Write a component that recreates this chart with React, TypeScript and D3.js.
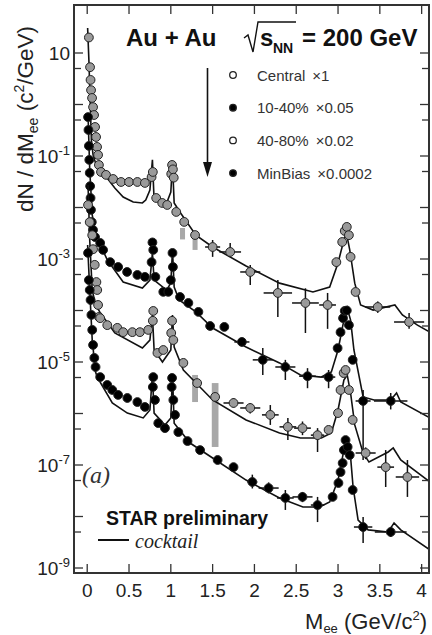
import React from 'react';
import * as d3 from 'd3';

const W = 432, H = 635;
const L = 74, R = 429, T = 5, B = 573;

const xTicks = [0, 0.5, 1, 1.5, 2, 2.5, 3, 3.5, 4];
const xTickLabels = ['0', '0.5', '1', '1.5', '2', '2.5', '3', '3.5', '4'];
const yDecades = [1, 0, -1, -2, -3, -4, -5, -6, -7, -8, -9];
const yLabelExps = [1, -1, -3, -5, -7, -9];

const legendLabels = ['Central', '10-40%', '40-80%', 'MinBias'];
const legendScales = ['\u00d71', '\u00d70.05', '\u00d70.02', '\u00d70.0002'];

// ---- Central x1 (gray) ----
const centralPts = [[0.02,20],[0.034,5.3],[0.04,3.0],[0.046,1.9],[0.058,1.34],[0.07,0.89],[0.082,0.625],[0.094,0.366],[0.106,0.234],[0.118,0.15],[0.13,0.105],[0.14,0.067],[0.165,0.049],[0.225,0.043],[0.31,0.0358],[0.405,0.0313],[0.5,0.0313],[0.6,0.0313],[0.69,0.030],[0.77,0.039],[0.785,0.049],[0.825,0.0153],[0.897,0.01225],[0.957,0.0112],[1.005,0.045],[1.015,0.067],[1.025,0.055],[1.035,0.038],[1.065,0.0082],[1.16,0.00525],[1.29,0.00292],[1.5,0.00171],[1.71,0.00137],[1.95,5.6e-4],[2.28,2.19e-4],[2.61,1.4e-4],[2.875,1.28e-4],[2.98,8.7e-4],[3.05,2.14e-3],[3.08,3.5e-3],[3.105,4.2e-3],[3.13,2.9e-3],[3.15,1.1e-3],[3.21,2.29e-4],[3.475,1.17e-4],[3.85,5.98e-5]];
const centralErr = [[1.5,1.71e-3,1.1e-3,2.34e-3,0.09],[1.71,1.37e-3,1.15e-3,2.05e-3,0.13],[1.95,5.6e-4,3.13e-4,7.66e-4,0.12],[2.28,2.19e-4,7.5e-5,3.9e-4,0.17],[2.61,1.4e-4,3.66e-5,2.7e-4,0.16],[2.875,1.28e-4,4.4e-5,2.19e-4,0.1],[3.475,1.17e-4,9e-5,1.5e-4,0.15],[3.85,5.98e-5,4.4e-5,8.9e-5,0.18]];
const centralSys = [[1.14,2.4e-3,4.0e-3,0.03],[1.29,1.5e-3,2.7e-3,0.03]];
const centralCocktail = [[0.005,30.5],[0.02,7.3],[0.035,1.22],[0.05,0.205],[0.07,0.105],[0.1,0.073],[0.13,0.059],[0.24,0.037],[0.33,0.0239],[0.43,0.016],[0.55,0.0128],[0.66,0.01225],[0.7,0.014],[0.75,0.0219],[0.78,0.084],[0.8,0.014],[0.95,0.01225],[1.0,0.02],[1.02,0.073],[1.04,0.01225],[1.1,0.00855],[1.3,0.0029],[1.5,0.00171],[1.9,7.3e-4],[2.3,3.4e-4],[2.7,2.29e-4],[2.9,2.86e-4],[3.0,8.4e-4],[3.07,2.34e-3],[3.1,3.2e-3],[3.14,1.5e-3],[3.2,3.4e-4],[3.27,1.28e-4],[3.42,1.02e-4],[3.68,1.28e-4],[3.77,8.2e-5],[3.95,5.2e-5],[4.1,3.8e-5]];

// ---- 10-40% x0.05 (black) ----
const midPts = [[0.01,0.57],[0.015,0.32],[0.02,0.157],[0.025,0.084],[0.03,0.047],[0.035,0.026],[0.04,0.0153],[0.045,0.009],[0.055,0.0052],[0.07,0.00367],[0.094,0.00267],[0.155,0.00205],[0.19,0.0015],[0.275,8.7e-4],[0.37,7.0e-4],[0.477,5.6e-4],[0.6,4.9e-4],[0.69,4.5e-4],[0.77,8.7e-4],[0.78,2.1e-3],[0.79,1.5e-3],[0.815,4.5e-4],[0.91,2.3e-4],[0.97,2.3e-4],[1.0,3.9e-4],[1.02,1.31e-3],[1.025,7.0e-4],[1.11,1.83e-4],[1.21,1.4e-4],[1.33,9.4e-5],[1.47,5.0e-5],[1.64,4.8e-5],[1.85,2.45e-5],[2.1,1.1e-5],[2.37,8.0e-6],[2.635,5.3e-6],[2.887,5.1e-6],[2.995,1.86e-5],[3.03,3.8e-5],[3.06,7.1e-5],[3.08,9.8e-5],[3.105,1.0e-4],[3.13,5.2e-5],[3.175,1.1e-5],[3.3,1.75e-6],[3.63,1.75e-6]];
const midErr = [[1.85,2.45e-5,2.0e-5,3.0e-5,0.09],[2.1,1.1e-5,5.6e-6,1.87e-5,0.12],[2.37,8.0e-6,4.47e-6,1.1e-5,0.12],[2.635,5.3e-6,3.1e-6,7.6e-6,0.1],[2.887,5.1e-6,3.1e-6,7.0e-6,0.08],[3.3,1.75e-6,1.25e-7,2.86e-6,0.09],[3.63,1.75e-6,1.2e-6,2.5e-6,0.2]];
const midSys: number[][] = [];
const midCocktail = [[0.01,0.625],[0.03,0.054],[0.06,0.0072],[0.1,0.0029],[0.13,0.00234],[0.24,9.6e-4],[0.43,3.57e-4],[0.66,2.73e-4],[0.75,3.9e-4],[0.78,1.31e-3],[0.8,3.9e-4],[0.95,2.5e-4],[1.0,3.4e-4],[1.02,1.5e-3],[1.04,2.86e-4],[1.1,1.6e-4],[1.3,9.4e-5],[1.5,4.57e-5],[1.9,1.95e-5],[2.3,9.6e-6],[2.55,5.6e-6],[2.8,5.1e-6],[2.92,6.4e-6],[3.0,1.71e-5],[3.07,6.5e-5],[3.11,1.12e-4],[3.15,6.5e-5],[3.19,1.71e-5],[3.3,2.1e-6],[3.43,1.83e-6],[3.63,1.83e-6],[3.7,2.5e-6],[3.75,1.67e-6],[4.1,8.2e-7]];

// ---- 40-80% x0.02 (gray) ----
const periPts = [[0.01,0.0112],[0.03,0.0052],[0.06,0.0029],[0.07,0.00155],[0.09,7.7e-4],[0.11,3.57e-4],[0.12,2.5e-4],[0.13,1.28e-4],[0.14,7.5e-5],[0.155,7.1e-5],[0.24,5.2e-5],[0.36,4.6e-5],[0.43,3.8e-5],[0.54,3.8e-5],[0.63,3.8e-5],[0.73,4.2e-5],[0.785,6.3e-5],[0.79,9.8e-5],[0.84,1.5e-5],[0.91,1.71e-5],[1.005,3.66e-5],[1.015,6.3e-5],[1.03,2.67e-5],[1.15,9.6e-6],[1.315,3.9e-6],[1.53,2.1e-6],[1.75,1.6e-6],[1.95,1.28e-6],[2.19,9.4e-7],[2.4,5.5e-7],[2.575,5.2e-7],[2.755,3.8e-7],[2.887,4.8e-7],[3.0,1.02e-6],[3.03,2.86e-6],[3.067,6.1e-6],[3.09,7.0e-6],[3.13,2.86e-6],[3.175,7.5e-7],[3.33,1.71e-7],[3.57,9.1e-8],[3.83,5.85e-8]];
const periErr = [[1.75,1.6e-6,1.3e-6,2.0e-6,0.12],[1.95,1.28e-6,1.0e-6,1.6e-6,0.12],[2.19,9.4e-7,6.0e-7,1.46e-6,0.1],[2.4,5.5e-7,3.05e-7,8.2e-7,0.1],[2.575,5.2e-7,3.8e-7,7.0e-7,0.1],[2.755,3.8e-7,1.79e-7,5.2e-7,0.08],[3.33,1.71e-7,1.3e-7,2.2e-7,0.12],[3.57,9.1e-8,3.74e-8,1.95e-7,0.1],[3.83,5.85e-8,2.4e-8,1.25e-7,0.14]];
const periSys = [[1.29,1.67e-6,5.6e-6,0.035],[1.53,2.24e-7,3.9e-6,0.04]];
const periCocktail = [[0.01,0.0274],[0.03,0.00234],[0.06,2.5e-4],[0.1,1.28e-4],[0.15,9.4e-5],[0.33,3.66e-5],[0.66,1.87e-5],[0.75,2.67e-5],[0.78,8.2e-5],[0.8,1.71e-5],[0.9,1.0e-5],[1.0,1.71e-5],[1.02,8.2e-5],[1.04,1.95e-5],[1.15,7.0e-6],[1.5,1.83e-6],[1.9,7.5e-7],[2.3,4.2e-7],[2.55,3.35e-7],[2.8,3.35e-7],[2.92,4.2e-7],[3.0,1.17e-6],[3.07,4.47e-6],[3.11,5.6e-6],[3.15,2.5e-6],[3.2,6.0e-7],[3.3,1.71e-7],[3.37,1.14e-7],[3.6,1.79e-7],[3.66,2.14e-7],[3.75,1.25e-7],[4.1,4.68e-8]];

// ---- MinBias x0.0002 (black) ----
const minbPts = [[0.01,1.31e-3],[0.02,3.9e-4],[0.03,2.5e-4],[0.04,1.6e-4],[0.05,8.2e-5],[0.06,4.2e-5],[0.07,2.14e-5],[0.085,1.2e-5],[0.1,8.0e-6],[0.155,5.1e-6],[0.24,3.58e-6],[0.3,2.86e-6],[0.37,2.29e-6],[0.48,2.0e-6],[0.6,1.67e-6],[0.69,1.34e-6],[0.785,3.27e-6],[0.79,5.1e-6],[0.81,1.83e-6],[0.85,6.5e-7],[0.93,5.2e-7],[1.01,3.27e-6],[1.015,4.9e-6],[1.03,1.83e-6],[1.05,9.4e-7],[1.09,4.36e-7],[1.2,2.92e-7],[1.35,1.95e-7],[1.56,1.25e-7],[1.75,9.1e-8],[1.975,4.68e-8],[2.17,3.57e-8],[2.37,2.29e-8],[2.575,2.4e-8],[2.755,1.67e-8],[2.935,2.4e-8],[3.005,4.47e-8],[3.03,7.3e-8],[3.055,1.09e-7],[3.07,1.95e-7],[3.09,3.05e-7],[3.115,2.24e-7],[3.14,1.56e-7],[3.175,3.27e-8],[3.3,6.25e-9],[3.63,5.0e-9]];
const minbErr = [[1.975,4.68e-8,3.5e-8,6.5e-8,0.06],[2.17,3.57e-8,2.8e-8,4.6e-8,0.12],[2.37,2.29e-8,1.34e-8,3.27e-8,0.1],[2.575,2.4e-8,1.9e-8,3.0e-8,0.12],[2.755,1.67e-8,7.8e-9,2.4e-8,0.08],[3.3,6.25e-9,3.05e-9,9.8e-9,0.11],[3.63,5.0e-9,4.0e-9,6.3e-9,0.19]];
const minbSys: number[][] = [];
const minbCocktail = [[0.005,1.87e-3],[0.03,2.5e-4],[0.06,2.67e-5],[0.1,6.4e-6],[0.12,5.1e-6],[0.3,1.6e-6],[0.48,1.02e-6],[0.67,8.2e-7],[0.75,1.17e-6],[0.78,5.6e-6],[0.8,1.02e-6],[0.93,6.0e-7],[1.0,8.2e-7],[1.02,5.6e-6],[1.04,6.5e-7],[1.23,2.67e-7],[1.5,1.37e-7],[1.9,5.1e-8],[2.3,2.29e-8],[2.58,1.53e-8],[2.78,1.53e-8],[2.9,1.91e-8],[3.0,5.1e-8],[3.07,1.95e-7],[3.1,3.34e-7],[3.14,2.24e-7],[3.18,3.74e-8],[3.24,8.5e-9],[3.36,5.5e-9],[3.6,5.0e-9],[3.67,7.5e-9],[3.75,5.5e-9],[4.1,2.24e-9]];

const GRAY = '#9a9a9a';
const series = [
  { pts: centralPts, err: centralErr, sys: centralSys, cock: centralCocktail, fill: GRAY },
  { pts: midPts, err: midErr, sys: midSys, cock: midCocktail, fill: '#000' },
  { pts: periPts, err: periErr, sys: periSys, cock: periCocktail, fill: GRAY },
  { pts: minbPts, err: minbErr, sys: minbSys, cock: minbCocktail, fill: '#000' },
];
const legendFills = ['#fff', '#000', '#fff', '#000'];

const FONT = '"Liberation Sans", Arial, Helvetica, sans-serif';
const SERIF = '"Liberation Serif", "Times New Roman", serif';

export default function App() {
  const x = d3.scaleLinear().domain([-0.158, 4.088]).range([L, R]);
  const y = d3.scaleLog().domain([Math.pow(10, -9.097), Math.pow(10, 1.932)]).range([B, T]);
  const line = d3.line<number[]>().x(d => x(d[0])).y(d => y(d[1]));

  const yMinor: number[] = [];
  yDecades.forEach(k => yMinor.push(5 * Math.pow(10, k - 1)));
  const yMajor = yDecades.map(k => Math.pow(10, k));

  return (
    <svg width={W} height={H} style={{ position: 'absolute', left: 0, top: 0, background: '#fff' }} fontFamily={FONT}>
      <defs>
        <clipPath id="plot"><rect x={L} y={T} width={R - L} height={B - T} /></clipPath>
      </defs>
      <rect x={0} y={0} width={W} height={H} fill="#fff" />
      <g clipPath="url(#plot)">
        {series.map((s, i) => (
          <g key={'s' + i}>
            {s.sys.map((b, j) => (
              <rect key={j} x={x(b[0] - b[3])} width={x(b[0] + b[3]) - x(b[0] - b[3])} y={y(b[2])} height={y(b[1]) - y(b[2])} fill="#a8a8a8" />
            ))}
            <path d={line(s.cock as any) || ''} fill="none" stroke="#111" strokeWidth={1.6} />
            {s.err.map((e, j) => (
              <g key={j} stroke="#111" strokeWidth={1.5}>
                <line x1={x(e[0] - e[4])} x2={x(e[0] + e[4])} y1={y(e[1])} y2={y(e[1])} />
                <line x1={x(e[0])} x2={x(e[0])} y1={y(e[2])} y2={y(e[3])} />
              </g>
            ))}
            {s.pts.map((p, j) => (
              <circle key={j} cx={x(p[0])} cy={y(p[1])} r={4.4} fill={s.fill} stroke="#222" strokeWidth={1} />
            ))}
          </g>
        ))}
      </g>

      {/* frame */}
      <rect x={L} y={T} width={R - L} height={B - T} fill="none" stroke="#333" strokeWidth={2} />

      {/* x ticks */}
      {xTicks.map((t, i) => (
        <g key={'xt' + i} stroke="#333" strokeWidth={1.3}>
          <line x1={x(t)} x2={x(t)} y1={B} y2={B - 9} />
          <line x1={x(t)} x2={x(t)} y1={T} y2={T + 9} />
        </g>
      ))}
      {xTicks.map((t, i) => (
        <text key={'xl' + i} x={x(t)} y={597} textAnchor="middle" fontSize={19} fill="#222">{xTickLabels[i]}</text>
      ))}

      {/* y ticks */}
      {yMajor.map((v, i) => (
        <g key={'yM' + i} stroke="#333" strokeWidth={1.3}>
          <line x1={L} x2={L + 9} y1={y(v)} y2={y(v)} />
          <line x1={R} x2={R - 9} y1={y(v)} y2={y(v)} />
        </g>
      ))}
      {yMinor.filter(v => y(v) > T + 1 && y(v) < B - 1).map((v, i) => (
        <g key={'ym' + i} stroke="#333" strokeWidth={1.3}>
          <line x1={L} x2={L + 7} y1={y(v)} y2={y(v)} />
          <line x1={R} x2={R - 7} y1={y(v)} y2={y(v)} />
        </g>
      ))}
      {yLabelExps.map(k => (
        <text key={'yl' + k} x={70} y={y(Math.pow(10, k)) + 7} textAnchor="end" fontSize={19} fill="#222">
          10{k !== 1 ? <tspan fontSize={13} dy={-8}>{'-' + (-k)}</tspan> : null}
        </text>
      ))}

      {/* axis titles */}
      <text transform="translate(33,119) rotate(-90)" textAnchor="middle" fontSize={22.5} fill="#222">
        dN / dM<tspan fontSize={14} dy={5}>ee</tspan><tspan dy={-5}> (c</tspan><tspan fontSize={14} dy={-9}>2</tspan><tspan dy={9}>/GeV)</tspan>
      </text>
      <text x={427} y={629} textAnchor="end" fontSize={22} fill="#222">
        M<tspan fontSize={13} dy={4}>ee</tspan><tspan dy={-4}> (GeV/c</tspan><tspan fontSize={13} dy={-9}>2</tspan><tspan dy={9}>)</tspan>
      </text>

      {/* header */}
      <text x={126} y={46} fontSize={24} fontWeight="bold" fill="#111">Au + Au</text>
      <path d="M244,38 L248,35 L253,52 L258,22 L296,22" fill="none" stroke="#111" strokeWidth={1.4} />
      <text x={260} y={46} fontSize={24} fontWeight="bold" fill="#111">s</text>
      <text x={273} y={53} fontSize={14} fontWeight="bold" fill="#111">NN</text>
      <text x={302} y={46} fontSize={24} fontWeight="bold" fill="#111">= 200 GeV</text>

      {/* arrow */}
      <line x1={207.5} x2={207.5} y1={68} y2={166} stroke="#111" strokeWidth={1.6} />
      <path d="M203,162 L212,162 L207.5,177 Z" fill="#111" />

      {/* legend */}
      {legendLabels.map((lab, i) => {
        const cy = 75 + i * 32.7;
        return (
          <g key={'lg' + i}>
            <circle cx={233} cy={cy} r={3.3} fill={legendFills[i]} stroke="#222" strokeWidth={1.3} />
            <text x={257} y={cy + 5.5} fontSize={15} fill="#333">{lab}<tspan dx={7}>{legendScales[i]}</tspan></text>
          </g>
        );
      })}

      {/* annotations */}
      <text x={82} y={483} fontSize={24} fontStyle="italic" fontFamily={SERIF} fill="#333">(a)</text>
      <text x={106} y={525} fontSize={19.5} fontWeight="bold" fill="#111">STAR preliminary</text>
      <line x1={98} x2={129} y1={540} y2={540} stroke="#111" strokeWidth={2} />
      <text x={135} y={548} fontSize={20} fontStyle="italic" fontFamily={SERIF} fill="#222">cocktail</text>
    </svg>
  );
}
